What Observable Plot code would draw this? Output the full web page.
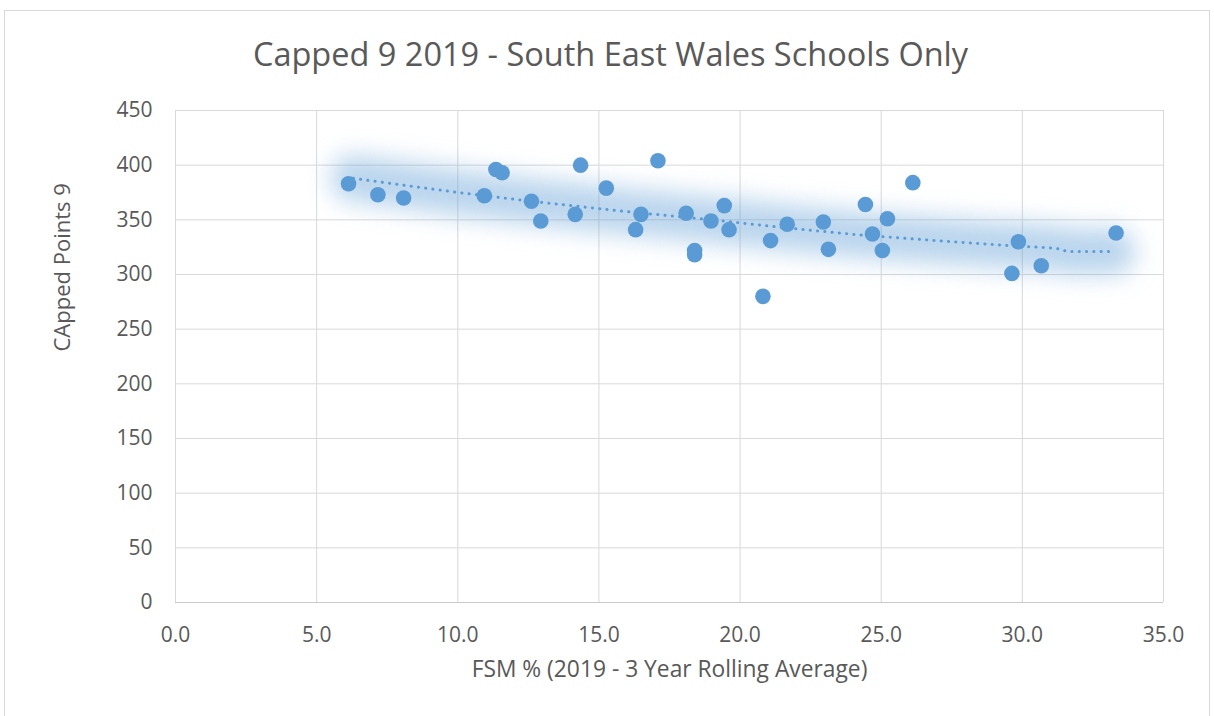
<!DOCTYPE html>
<html>
<head>
<meta charset="utf-8">
<script src="https://cdn.jsdelivr.net/npm/d3@7"></script>
<script src="https://cdn.jsdelivr.net/npm/@observablehq/plot@0.6"></script>
<style>
  html, body { margin: 0; padding: 0; background: #fff; }
  #wrap { position: relative; width: 1214px; height: 716px; overflow: hidden; font-family: "Open Sans", sans-serif; }
  #frame { position: absolute; left: 4px; top: 10px; width: 1206px; height: 710px; border: 1px solid #d9d9d9; box-sizing: border-box; }
  #title { position: absolute; left: 0; width: 1221px; top: 31px; text-align: center; font-size: 32.5px; color: #595959; }
  #chart { position: absolute; left: 0; top: 90px; }
</style>
</head>
<body>
<div id="wrap">
  <div id="frame"></div>
  <div id="title">Capped 9 2019 - South East Wales Schools Only</div>
  <div id="chart"></div>
</div>
<script>
// Data
const fsm = [6.13, 7.17, 8.08, 10.94, 11.35, 11.57, 12.61, 12.94, 14.16, 14.35,
             15.26, 16.3, 16.49, 17.09, 18.09, 18.39, 18.39, 18.97, 19.44, 19.61,
             20.81, 21.08, 21.67, 22.95, 23.13, 24.44, 24.69, 25.04, 25.22, 26.12,
             29.63, 29.86, 30.67, 33.32];
const capped = [383, 373, 370, 372, 396, 393, 367, 349, 355, 400,
                379, 341, 355, 404, 356, 322, 318, 349, 363, 341,
                280, 331, 346, 348, 323, 364, 337, 322, 351, 384,
                301, 330, 308, 338];
// Trendline as drawn in the picture
const trendX = [6.3, 10.0, 12.6, 15.8, 19.0, 21.5, 24.3, 27.5, 29.2, 31.2, 31.6, 33.2];
const trendY = [388, 375, 367, 358, 350, 343, 336, 330, 327, 324, 321, 321];
// Tick values
const xTicks = [0, 5, 10, 15, 20, 25, 30, 35];
const yTicks = [0, 50, 100, 150, 200, 250, 300, 350, 400, 450];
const xTitle = "FSM % (2019 - 3 Year Rolling Average)";
const yTitle = "CApped Points 9";

const points = fsm.map((x, i) => ({x, y: capped[i]}));
const trend = trendX.map((x, i) => ({x, y: trendY[i]}));

const blue = "#5b9bd5";
const grid = "#d9d9d9";

const chart = Plot.plot({
  width: 1214,
  height: 626,
  marginTop: 20,
  marginLeft: 175,
  marginRight: 51,
  marginBottom: 114,
  style: {fontFamily: "'Open Sans', sans-serif", fontSize: "21px", color: "#595959", background: "transparent", overflow: "visible"},
  x: {domain: [0, 35], ticks: xTicks, tickFormat: d3.format(".1f"), tickSize: 0, tickPadding: 25, label: null},
  y: {domain: [0, 450], ticks: yTicks, tickSize: 0, tickPadding: 23, label: null},
  marks: [
    Plot.ruleX(xTicks, {stroke: grid, strokeWidth: 1}),
    Plot.ruleY(yTicks, {stroke: grid, strokeWidth: 1}),
    Plot.ruleY([0], {stroke: "#c9c9c9", strokeWidth: 1.2}),
    Plot.line(trend, {x: "x", y: "y", stroke: blue, strokeWidth: 46, strokeOpacity: 0.42, strokeLinecap: "round", strokeLinejoin: "round"}),
    Plot.line(trend, {x: "x", y: "y", stroke: blue, strokeWidth: 3, strokeDasharray: "0.1 7.2", strokeLinecap: "round"}),
    Plot.dot(points, {x: "x", y: "y", r: 7.8, fill: blue, stroke: "none"}),
    Plot.text([xTitle], {frameAnchor: "bottom", dy: 74, fontSize: 22.8, fill: "#595959"}),
    Plot.text([yTitle], {frameAnchor: "left", dx: -113, dy: -5, rotate: -90, fontSize: 22, fill: "#595959"})
  ]
});
document.getElementById("chart").appendChild(chart);
// soft glow effect around the trendline
chart.querySelectorAll('[stroke-width="46"]').forEach(el => { el.style.filter = "blur(12px)"; });
</script>
</body>
</html>
